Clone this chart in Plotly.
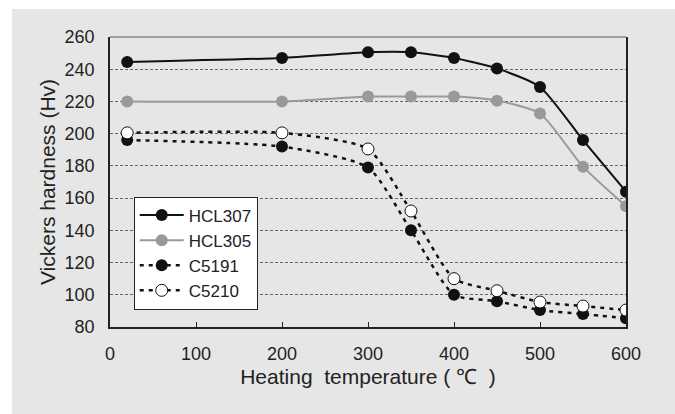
import plotly.graph_objects as go

temps = [20, 200, 300, 350, 400, 450, 500, 550, 600]
hcl307 = [244.5, 247, 250.5, 250.5, 247, 240.5, 229, 196, 164]
hcl305 = [220, 220, 223, 223, 223, 220.5, 212.5, 179.5, 155]
c5191 = [196, 192, 179, 140, 100, 96, 90.5, 88, 85.5]
c5210 = [200.5, 200.5, 190.5, 152, 110, 102.5, 95.5, 93, 90.5]

font_family = "Liberation Sans, Arial, Helvetica, sans-serif"
txt = "#222222"

fig = go.Figure()
fig.add_trace(go.Scatter(
    x=temps, y=hcl307, name="HCL307", mode="lines+markers",
    line=dict(color="#111111", width=2, shape="spline", smoothing=0.6),
    marker=dict(color="#111111", size=12)))
fig.add_trace(go.Scatter(
    x=temps, y=hcl305, name="HCL305", mode="lines+markers",
    line=dict(color="#999999", width=2, shape="spline", smoothing=0.6),
    marker=dict(color="#999999", size=12)))
fig.add_trace(go.Scatter(
    x=temps, y=c5191, name="C5191", mode="lines+markers",
    line=dict(color="#111111", width=2.5, dash="4px,5px", shape="spline", smoothing=0.6),
    marker=dict(color="#111111", size=12)))
fig.add_trace(go.Scatter(
    x=temps, y=c5210, name="C5210", mode="lines+markers",
    line=dict(color="#111111", width=2.5, dash="4px,5px", shape="spline", smoothing=0.6),
    marker=dict(color="white", size=12, line=dict(color="#111111", width=1))))

# gray panel background (paper-referenced, below plot area)
fig.add_shape(type="rect", xref="paper", yref="paper",
              x0=-0.19, x1=1.2, y0=-0.35, y1=1.0966,
              fillcolor="#e6e6e6", line=dict(width=0), layer="below")
# top border (gray)
fig.add_shape(type="line", xref="paper", yref="paper",
              x0=0, x1=1, y0=1, y1=1, line=dict(color="#888888", width=1.5))

fig.update_layout(
    width=675, height=414,
    margin=dict(l=110, r=49, t=37, b=87),
    paper_bgcolor="white", plot_bgcolor="white",
    font=dict(family=font_family, size=18, color=txt),
    showlegend=True,
    legend=dict(x=0.046, y=0.45, xanchor="left", yanchor="top",
                bgcolor="white", bordercolor="#222222", borderwidth=1,
                font=dict(size=17, color=txt), tracegroupgap=0,
                itemwidth=44),
    xaxis=dict(range=[0, 600], tickvals=[0, 100, 200, 300, 400, 500, 600],
               ticks="inside", ticklen=5, tickcolor="#222222", tickwidth=1,
               showline=True, linecolor="#222222", linewidth=1.5,
               showgrid=False, zeroline=False,
               ticklabelstandoff=10,
               tickfont=dict(size=18),
               title=dict(text="Heating  temperature ( \u2103  )", standoff=6,
                          font=dict(size=21, color=txt))),
    yaxis=dict(range=[80, 260], tickvals=list(range(80, 261, 20)),
               ticks="", showline=True, mirror=True,
               linecolor="#222222", linewidth=1.5,
               showgrid=True, gridcolor="#666666", gridwidth=1,
               griddash="3px,2px", zeroline=False,
               ticklabelstandoff=10,
               tickfont=dict(size=18),
               title=dict(text="Vickers hardness (Hv)", standoff=3,
                          font=dict(size=21, color=txt))),
)

fig.write_html("out.html")
